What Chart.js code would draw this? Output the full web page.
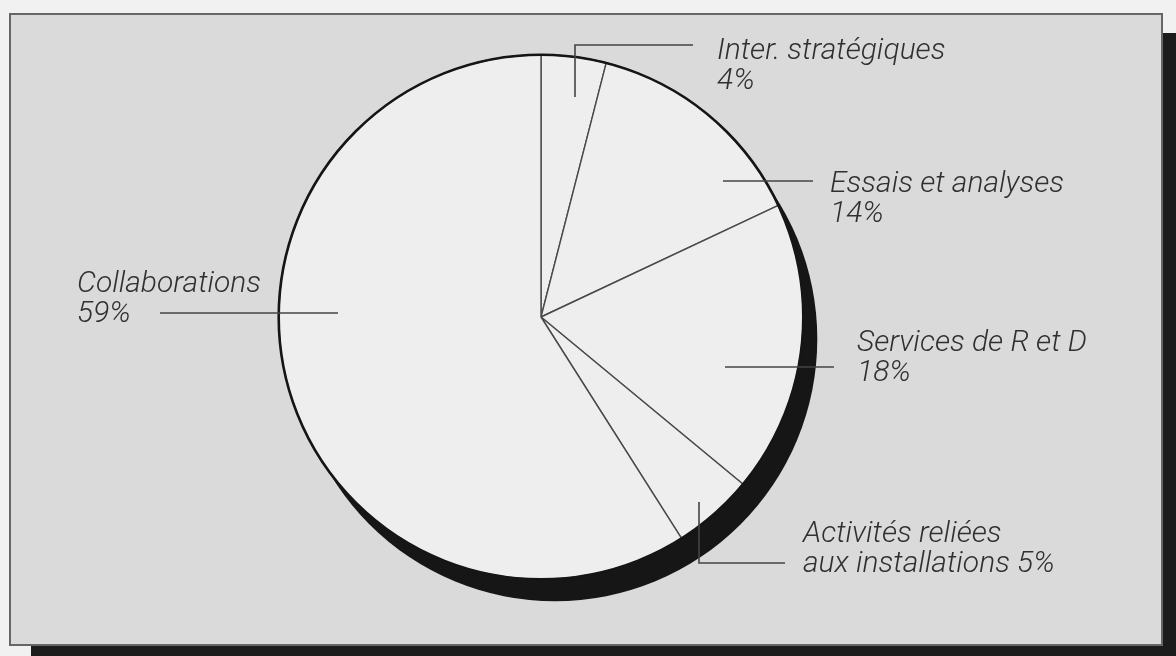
<!DOCTYPE html>
<html>
<head>
<meta charset="utf-8">
<script src="https://cdn.jsdelivr.net/npm/chart.js@4.4.0/dist/chart.umd.min.js"></script>
<style>
  html, body { margin: 0; padding: 0; background: #f1f1f1; }
  body { width: 1176px; height: 656px; overflow: hidden; position: relative; }
  #frame {
    position: absolute; left: 9px; top: 13px; width: 1150px; height: 629px;
    background: #dadada; border: 2px solid #666;
    box-shadow: 22px 20px 0 #1c1c1c;
  }
  #wrap { position: absolute; left: 0; top: 0; width: 1176px; height: 656px; }
</style>
</head>
<body>
<div id="frame"></div>
<div id="wrap"><canvas id="myChart" width="1176" height="656"></canvas></div>
<script>
// categories in drawing order, clockwise from 12 o'clock
const categories = ['Inter. stratégiques', 'Essais et analyses', 'Services de R et D', 'Activités reliées aux installations', 'Collaborations'];
const shares = [4, 14, 18, 5, 59];
// printed label lines
const labelLines = [
    ['Inter. stratégiques', '4%'],
    ['Essais et analyses', '14%'],
    ['Services de R et D', '18%'],
    ['Activités reliées', 'aux installations 5%'],
    ['Collaborations', '59%']
];

// leader lines and text anchors, offsets from the pie centre (px)
const leaderLayout = [
    { path: [[34, -220], [34, -272], [152, -272]], text: [176, -258] },
    { path: [[182, -136], [272, -136]], text: [289, -125] },
    { path: [[184, 50], [293, 50]], text: [316, 34] },
    { path: [[158, 185], [158, 246], [244, 246]], text: [262, 225] },
    { path: [[-381, -4], [-203, -4]], text: [-464, -25] }
];

const pieShadow = {
    id: 'pieShadow',
    beforeDatasetsDraw(chart) {
        const arc = chart.getDatasetMeta(0).data[0];
        const c = chart.ctx;
        c.save();
        c.fillStyle = '#161616';
        c.beginPath();
        c.arc(arc.x + 14, arc.y + 22, arc.outerRadius, 0, Math.PI * 2);
        c.fill();
        c.restore();
    }
};

const pieLabels = {
    id: 'pieLabels',
    afterDatasetsDraw(chart) {
        const arc = chart.getDatasetMeta(0).data[0];
        const cx = arc.x, cy = arc.y;
        const c = chart.ctx;
        c.save();
        // heavy outline round the pie
        c.strokeStyle = '#151515';
        c.lineWidth = 2.6;
        c.beginPath();
        c.arc(cx, cy, arc.outerRadius, 0, Math.PI * 2);
        c.stroke();

        c.strokeStyle = '#444';
        c.lineWidth = 1.6;
        c.fillStyle = '#303030';
        c.font = 'italic 300 30px Roboto, "Liberation Sans", sans-serif';
        c.textBaseline = 'alphabetic';
        leaderLayout.forEach(function(l, i) {
            c.beginPath();
            l.path.forEach(function(p, j) {
                if (j === 0) c.moveTo(cx + p[0], cy + p[1]);
                else c.lineTo(cx + p[0], cy + p[1]);
            });
            c.stroke();
            labelLines[i].forEach(function(t, k) {
                c.fillText(t, cx + l.text[0], cy + l.text[1] + k * 30);
            });
        });
        c.restore();
    }
};

var ctx = document.getElementById('myChart').getContext('2d');
var myChart = new Chart(ctx, {
    type: 'pie',
    data: {
        labels: categories,
        datasets: [{
            data: shares,
            backgroundColor: '#eeeeee',
            borderColor: '#4a4a4a',
            borderWidth: 1.4
        }]
    },
    options: {
        responsive: false,
        animation: false,
        rotation: 0,
        layout: { padding: { top: 54, bottom: 76, left: 278, right: 372 } },
        plugins: {
            legend: { display: false },
            tooltip: { enabled: false }
        }
    },
    plugins: [pieShadow, pieLabels]
});
</script>
</body>
</html>
